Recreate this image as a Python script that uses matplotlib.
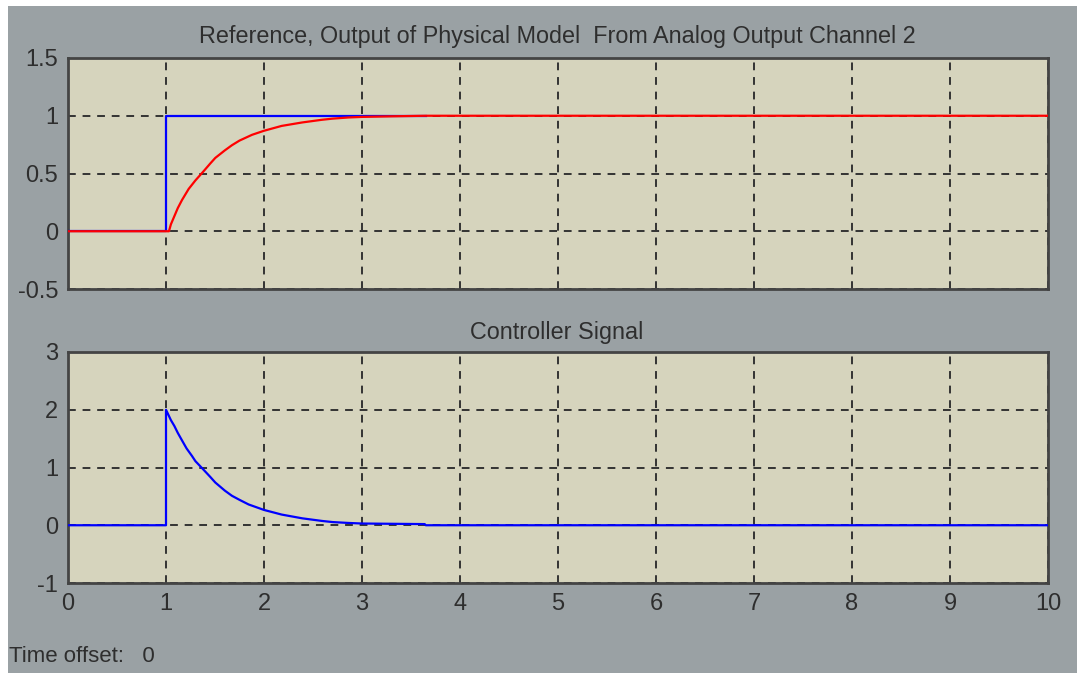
import numpy as np
import matplotlib
matplotlib.use('Agg')
import matplotlib.pyplot as plt
from matplotlib.patches import Rectangle

## Data
# reference step (blue) - scope buffer stops near t=3.65
ref_t = [0, 1.0, 1.0, 3.65]
ref_y = [0, 0, 1, 1]

# plant output (red)
out_t = [0, 1.0, 1.03, 1.05, 1.085, 1.12, 1.163, 1.231, 1.3, 1.384, 1.45,
         1.503, 1.6, 1.673, 1.75, 1.878, 2.0, 2.18, 2.39, 2.59, 2.7,
         2.86, 3.0, 3.3, 3.65, 10]
out_y = [0, 0, 0, 0.06, 0.13, 0.2, 0.27, 0.366, 0.44, 0.52, 0.585,
         0.635, 0.7, 0.745, 0.785, 0.835, 0.87, 0.912, 0.942, 0.965, 0.975,
         0.985, 0.99, 0.995, 1.0, 1.0]

# controller signal (blue)
ctl_t = [0, 1.0, 1.0, 1.05, 1.085, 1.12, 1.163, 1.21, 1.265, 1.3, 1.384, 1.45,
         1.503, 1.6, 1.673, 1.75, 1.843, 2.0, 2.18, 2.39, 2.59, 2.7,
         2.86, 3.0, 3.64, 3.65, 10]
ctl_y = [0, 0, 2.0, 1.82, 1.72, 1.6, 1.47, 1.33, 1.2, 1.11, 0.96, 0.84,
         0.74, 0.6, 0.51, 0.44, 0.36, 0.265, 0.185, 0.12, 0.075, 0.055,
         0.04, 0.03, 0.02, 0, 0]

x_ticks = list(range(0, 11))
top_yticks = [-0.5, 0, 0.5, 1, 1.5]
bot_yticks = [-1, 0, 1, 2, 3]
top_yticklabels = ['-0.5', '0', '0.5', '1', '1.5']
bot_yticklabels = ['-1', '0', '1', '2', '3']

top_title = 'Reference, Output of Physical Model  From Analog Output Channel 2'
bot_title = 'Controller Signal'

## Styling
bg_gray = '#9aa1a4'
panel = '#d6d4bd'
ink = '#2e2e2e'
plt.rcParams['font.family'] = ['Liberation Sans', 'DejaVu Sans']
plt.rcParams['axes.unicode_minus'] = False

fig = plt.figure(figsize=(10.77, 6.73), dpi=100, facecolor='white')
fig.patches.append(Rectangle((8 / 1077, 0), 1, 1 - 6 / 673, transform=fig.transFigure,
                             facecolor=bg_gray, edgecolor='none', zorder=-10))

left = 68 / 1077
width = (1048 - 68) / 1077
height = (289 - 58) / 673
ax1 = fig.add_axes([left, 1 - 289 / 673, width, height])
ax2 = fig.add_axes([left, 1 - 583 / 673, width, height])


def style_axes(ax, yticks, ylabels, show_x=False):
    ax.set_facecolor(panel)
    ax.set_xlim(0, 10)
    ax.set_ylim(yticks[0], yticks[-1])
    ax.set_xticks(x_ticks)
    ax.set_yticks(yticks)
    ax.set_yticklabels(ylabels)
    if not show_x:
        ax.set_xticklabels([])
    ax.tick_params(length=0, labelsize=17, colors=ink, pad=7)
    ax.grid(True, color='#333333', linestyle=(0, (4, 3.5)), linewidth=1.4)
    ax.set_axisbelow(True)
    for s in ax.spines.values():
        s.set_color('#444444')
        s.set_linewidth(2)


style_axes(ax1, top_yticks, top_yticklabels)
style_axes(ax2, bot_yticks, bot_yticklabels, show_x=True)

# top scope: reference and plant output
ax1.plot(ref_t, ref_y, color='#0000ff', lw=1.6, zorder=3)
ax1.plot(out_t, out_y, color='#ff0000', lw=1.6, zorder=4)

# bottom scope: controller output
ax2.plot(ctl_t, ctl_y, color='#0000ff', lw=1.6, zorder=3)

fig.text(557 / 1077, 1 - 36 / 673, top_title, ha='center', va='center',
         fontsize=16.8, color=ink)
fig.text(557 / 1077, 1 - 332 / 673, bot_title, ha='center', va='center',
         fontsize=16.8, color=ink)
fig.text(9 / 1077, 1 - 657 / 673, 'Time offset:   0', ha='left', va='center',
         fontsize=16, color=ink)

plt.savefig('out.png', dpi=100, facecolor=fig.get_facecolor())
